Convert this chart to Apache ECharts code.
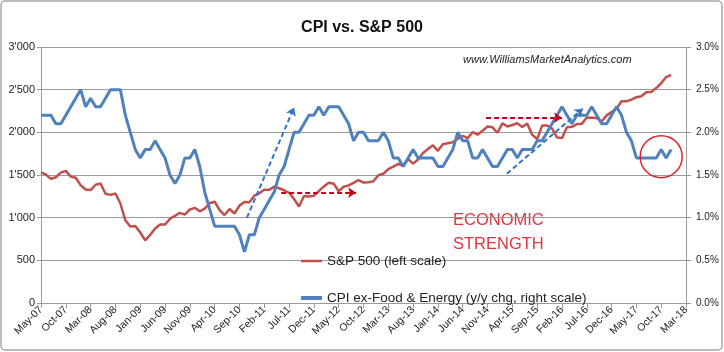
<!DOCTYPE html>
<html>
<head>
<meta charset="utf-8">
<script src="https://cdn.jsdelivr.net/npm/echarts@6/dist/echarts.min.js"></script>
<style>
  html, body { margin: 0; padding: 0; background: #fff; }
  #chart { width: 724px; height: 352px; }
</style>
</head>
<body>
<div id="chart"></div>
<script>
  // monthly axis May-07 .. Mar-18, labels every 5 months
  const monthNames = ['Jan', 'Feb', 'Mar', 'Apr', 'May', 'Jun', 'Jul', 'Aug', 'Sep', 'Oct', 'Nov', 'Dec'];
  const months = [];
  for (let i = 0; i <= 130; i++) {
    let m = (4 + i) % 12;
    let y = 7 + Math.floor((4 + i) / 12);
    months.push(monthNames[m] + '-' + (y < 10 ? '0' + y : y));
  }

  // S&P 500, month end, May-07 .. Dec-17
  const spx = [
    1531, 1503, 1455, 1474, 1527, 1549, 1481, 1468,
    1379, 1331, 1323, 1386, 1400, 1280, 1267, 1283, 1166, 969, 896, 903,
    826, 735, 798, 873, 919, 919, 988, 1021, 1057, 1036, 1096, 1115,
    1074, 1105, 1169, 1187, 1089, 1031, 1102, 1049, 1141, 1183, 1181, 1258,
    1286, 1327, 1326, 1364, 1345, 1321, 1292, 1219, 1131, 1253, 1247, 1258,
    1312, 1366, 1409, 1398, 1310, 1362, 1379, 1407, 1441, 1412, 1416, 1426,
    1498, 1515, 1569, 1598, 1631, 1606, 1686, 1633, 1682, 1757, 1806, 1848,
    1783, 1860, 1872, 1884, 1924, 1960, 1931, 2003, 1972, 2018, 2068, 2059,
    1995, 2105, 2068, 2086, 2107, 2063, 2104, 1972, 1920, 2079, 2080, 2044,
    1940, 1932, 2060, 2065, 2097, 2099, 2174, 2171, 2168, 2126, 2199, 2239,
    2279, 2364, 2363, 2384, 2412, 2423, 2470, 2472, 2519, 2575, 2648, 2674
  ];

  // CPI ex food & energy, y/y %, May-07 .. Dec-17
  const coreCpi = [
    2.2, 2.2, 2.2, 2.1, 2.1, 2.2, 2.3, 2.4,
    2.5, 2.3, 2.4, 2.3, 2.3, 2.4, 2.5, 2.5, 2.5, 2.2, 2.0, 1.8,
    1.7, 1.8, 1.8, 1.9, 1.8, 1.7, 1.5, 1.4, 1.5, 1.7, 1.7, 1.8,
    1.6, 1.3, 1.1, 0.9, 0.9, 0.9, 0.9, 0.9, 0.8, 0.6, 0.8, 0.8,
    1.0, 1.1, 1.2, 1.3, 1.5, 1.6, 1.8, 2.0, 2.0, 2.1, 2.2, 2.2,
    2.3, 2.2, 2.3, 2.3, 2.3, 2.2, 2.1, 1.9, 2.0, 2.0, 1.9, 1.9,
    1.9, 2.0, 1.9, 1.7, 1.7, 1.6, 1.7, 1.8, 1.7, 1.7, 1.7, 1.7,
    1.6, 1.6, 1.7, 1.8, 2.0, 1.9, 1.9, 1.7, 1.7, 1.8, 1.7, 1.6,
    1.6, 1.7, 1.8, 1.8, 1.7, 1.8, 1.8, 1.8, 1.9, 1.9, 2.0, 2.1,
    2.2, 2.3, 2.2, 2.1, 2.2, 2.2, 2.2, 2.3, 2.2, 2.1, 2.1, 2.2,
    2.3, 2.2, 2.0, 1.9, 1.7, 1.7, 1.7, 1.7, 1.7, 1.8, 1.7, 1.8
  ];

  // hand drawn arrows, [month index, S&P scale]
  const blueArrows = [[[41.5, 1000], [51.0, 2290]], [[93.9, 1515], [109.2, 2277]]];
  const redArrows = [[[48.4, 1293], [63.5, 1293]], [[89.7, 2172], [105.0, 2172]]];
  const circleAt = [125.0, 1715];

  const font = 'Liberation Sans, Arial, sans-serif';
  const gridGray = '#9a9a9a';

  function arrowLines(list, color) {
    return list.map(function (a) {
      return [{ coord: a[0] }, { coord: a[1], lineStyle: { color: color } }];
    });
  }

  // legend line sample: thin bar in a 21x14 box (tiny corner dots keep the box size)
  function legendBar(h) {
    let y0 = (7 - h / 2).toFixed(2), y1 = (7 + h / 2).toFixed(2);
    return 'path://M0,0H0.01V0.01H0Z M0,' + y0 + 'H21V' + y1 + 'H0Z M20.99,13.99H21V14H20.99Z';
  }

  let chart = echarts.init(document.getElementById('chart'));
  chart.setOption({
    backgroundColor: '#fff',
    animation: false,
    title: {
      text: 'CPI vs. S&P 500',
      left: 'center',
      top: 15,
      textStyle: { fontFamily: font, fontSize: 16, fontWeight: 'bold', color: '#111' }
    },
    legend: {
      orient: 'vertical',
      left: 296,
      top: 249,
      itemWidth: 21,
      itemHeight: 14,
      itemGap: 23,
      textStyle: { fontFamily: font, fontSize: 13.5, color: '#222' },
      data: [
        { name: 'S&P 500 (left scale)', icon: legendBar(2.5) },
        { name: 'CPI ex-Food & Energy (y/y chg, right scale)', icon: legendBar(4) }
      ]
    },
    grid: { left: 41, right: 38, top: 47, bottom: 49 },
    xAxis: [{
      type: 'category',
      data: months,
      boundaryGap: false,
      axisLine: { lineStyle: { color: gridGray } },
      axisTick: { interval: 4, length: 5, lineStyle: { color: gridGray } },
      axisLabel: { interval: 4, rotate: 45, margin: 5, fontFamily: font, fontSize: 10.5, color: '#222' },
      splitLine: { show: false }
    }, {
      type: 'value',
      min: 0,
      max: 130,
      show: false
    }],
    yAxis: [{
      type: 'value',
      min: 0,
      max: 3000,
      interval: 500,
      axisLine: { show: true, lineStyle: { color: gridGray } },
      axisTick: { show: true, length: 4, lineStyle: { color: gridGray } },
      axisLabel: {
        margin: 6, fontFamily: font, fontSize: 11, color: '#222',
        formatter: function (v) { return String(v).replace(/(\d)(?=(\d{3})$)/, "$1'"); }
      },
      splitLine: { lineStyle: { color: gridGray, width: 1 } }
    }, {
      type: 'value',
      min: 0,
      max: 3,
      interval: 0.5,
      axisLine: { show: true, lineStyle: { color: gridGray } },
      axisTick: { show: true, length: 5, lineStyle: { color: gridGray } },
      axisLabel: {
        margin: 10, fontFamily: font, fontSize: 10, color: '#222',
        formatter: function (v) { return v.toFixed(1) + '%'; }
      },
      splitLine: { show: false }
    }],
    series: [{
      name: 'S&P 500 (left scale)',
      type: 'line',
      data: spx,
      yAxisIndex: 0,
      symbol: 'none',
      lineStyle: { color: '#c0504d', width: 2.5 },
      itemStyle: { color: '#c0504d' }
    }, {
      name: 'CPI ex-Food & Energy (y/y chg, right scale)',
      type: 'line',
      data: coreCpi,
      yAxisIndex: 1,
      symbol: 'none',
      lineStyle: { color: '#4f81bd', width: 3 },
      itemStyle: { color: '#4f81bd' }
    }, {
      // annotations only
      name: 'notes',
      type: 'line',
      data: [],
      xAxisIndex: 1,
      yAxisIndex: 0,
      silent: true,
      markLine: {
        silent: true,
        symbol: ['none', 'arrow'],
        symbolSize: [8, 8],
        label: { show: false },
        lineStyle: { type: [5, 3], width: 2 },
        data: arrowLines(blueArrows, '#2e75c6').concat(arrowLines(redArrows, '#c00018'))
      },
      markPoint: {
        silent: true,
        symbol: 'circle',
        symbolSize: 42,
        label: { show: false },
        itemStyle: { color: 'rgba(0,0,0,0)', borderColor: '#e0202a', borderWidth: 1.5 },
        data: [{ coord: circleAt }]
      }
    }],
    graphic: [{
      type: 'rect',
      shape: { x: 1, y: 1, width: 721, height: 349, r: 4 },
      style: { fill: 'none', stroke: '#a6a6a6', lineWidth: 1.5 },
      silent: true
    }, {
      type: 'text',
      left: 463,
      top: 54,
      style: {
        text: 'www.WilliamsMarketAnalytics.com',
        font: 'italic 11px ' + font,
        fill: '#222'
      }
    }, {
      type: 'text',
      left: 453,
      top: 208,
      style: {
        text: 'ECONOMIC\nSTRENGTH',
        font: '16.5px ' + font,
        lineHeight: 24,
        fill: '#e0353c'
      }
    }]
  });
</script>
</body>
</html>
